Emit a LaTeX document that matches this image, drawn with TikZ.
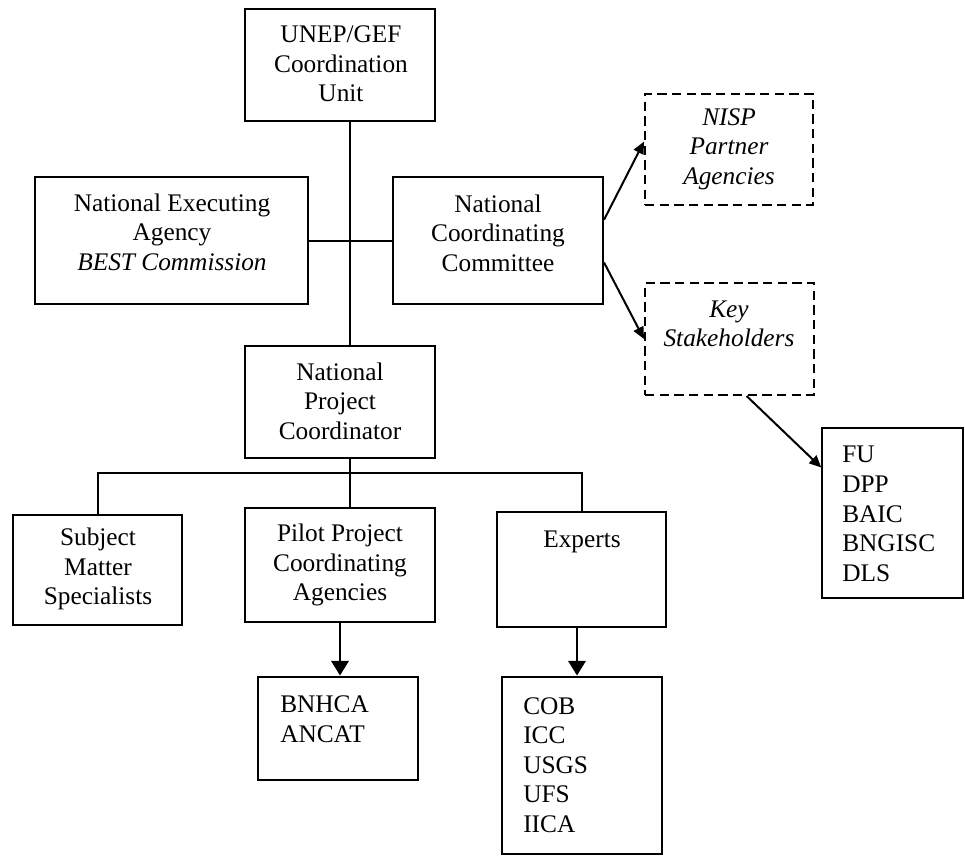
\documentclass[tikz,border=0pt]{standalone}
\usepackage{fontspec}
\setmainfont{Liberation Serif}
\usetikzlibrary{arrows.meta,calc}
\begin{document}
\begin{tikzpicture}[x=0.75pt,y=-0.75pt,
  font=\fontsize{19}{22.2}\selectfont,
  box/.style n args={2}{draw, line width=1.5pt, inner sep=0pt,
    minimum width=#1*0.75pt, minimum height=#2*0.75pt},
  dbox/.style n args={2}{box={#1}{#2}, dash pattern=on 7pt off 4pt},
  tbox/.style n args={2}{box={#1}{#2}, line width=2.2pt},
  lbox/.style n args={2}{box={#1}{#2}, line width=1.1pt},
  txt/.style={align=center, inner sep=0pt},
  ltxt/.style={align=left, inner sep=0pt, anchor=west},
  conn/.style={line width=1.5pt},
  arrS/.style={line width=1.5pt, -{Triangle[length=9pt,width=8pt]}},
  arrB/.style={line width=1.8pt, -{Triangle[length=11pt,width=13pt]}}
]
\useasboundingbox (0,0) rectangle (965,856);

% helper coordinates
\coordinate (spine) at (350,0);
\coordinate (bus) at (0,473);
\coordinate (ea) at (577,0);

% boxes
\node[box={190}{112}] (unep) at (340,65) {};
\node[txt] (unep-t) at (341,64) {UNEP/GEF\\Coordination\\Unit};

\node[box={273}{127}] (nea) at (171.5,240.5) {};
\node[txt] (nea-t) at (172,232) {National Executing\\Agency\\\textit{BEST Commission}};

\node[box={210}{127}] (ncc) at (498,240.5) {};
\node[txt] (ncc-t) at (498,233) {National\\Coordinating\\Committee};

\node[dbox={168}{111}] (nisp) at (729,149.5) {};
\node[txt, font=\fontsize{19}{22.2}\selectfont\itshape] (nisp-t) at (729,149) {NISP\\Partner\\Agencies};

\node[dbox={169}{112}] (ks) at (729.5,339) {};
\node[txt, font=\fontsize{19}{22.2}\selectfont\itshape] (ks-t) at (729,324) {Key\\Stakeholders};

\node[lbox={141}{170}] (list) at (892.5,513) {};
\node[ltxt] (list-t) at (842,514) {FU\\DPP\\BAIC\\BNGISC\\DLS};

\node[box={190}{112}] (npc) at (340,402) {};
\node[txt] (npc-t) at (340,401) {National\\Project\\Coordinator};

\node[box={169}{110}] (subj) at (97.5,570) {};
\node[txt] (subj-t) at (98,569) {Subject\\Matter\\Specialists};

\node[box={190}{114}] (pilot) at (340,565) {};
\node[txt] (pilot-t) at (340,565) {Pilot Project\\Coordinating\\Agencies};

\node[box={169}{115}] (exp) at (581.5,569.5) {};
\node[txt] (exp-t) at (582,542) {Experts};

\node[tbox={160}{103}] (bnh) at (338,728.5) {};
\node[ltxt] (bnh-t) at (280,719) {BNHCA\\ANCAT};

\node[tbox={160}{177}] (cob) at (582,765.5) {};
\node[ltxt] (cob-t) at (523,765) {COB\\ICC\\USGS\\UFS\\IICA};

% connectors
\draw[conn] (unep.south -| spine) -- (npc.north -| spine);
\draw[conn] (nea.east) -- (ncc.west);
\draw[conn] (npc.south -| spine) -- (spine |- bus);
\draw[conn] (subj.north) -- (subj.north |- bus) -- (exp.north |- bus) -- (exp.north);
\draw[conn] (spine |- bus) -- (pilot.north -| spine);

\draw[arrS] ($(ncc.north east)!0.34!(ncc.south east)$) -- ($(nisp.north west)!0.43!(nisp.south west)$);
\draw[arrS] ($(ncc.north east)!0.67!(ncc.south east)$) -- (ks.west);
\draw[arrS] ($(ks.south west)!0.6!(ks.south east)$) -- ($(list.north west)!0.235!(list.south west)$);

\draw[arrB] (pilot.south) -- (pilot.south |- bnh.north);
\draw[arrB] (exp.south -| ea) -- (cob.north -| ea);
\end{tikzpicture}
\end{document}
